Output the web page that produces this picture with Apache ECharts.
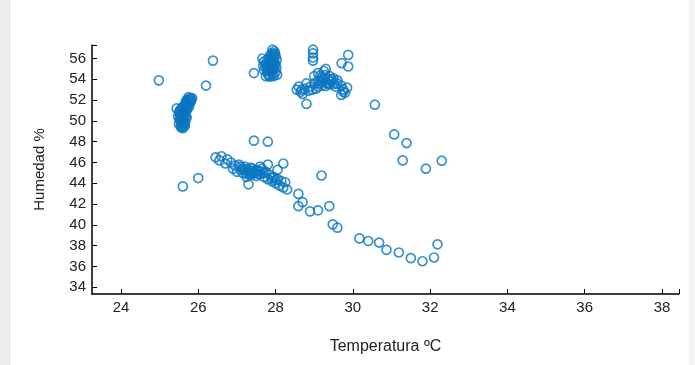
<!DOCTYPE html>
<html>
<head>
<meta charset="utf-8">
<style>
  html, body { margin: 0; padding: 0; background: #fff; }
  #main { width: 695px; height: 365px; }
</style>
<script src="https://cdn.jsdelivr.net/npm/echarts@6/dist/echarts.min.js"></script>
</head>
<body>
<div id="main"></div>
<script>
// [temperatura ºC, humedad %]
const clusterA = [
  [25.55, 49.4], [25.6, 49.3], [25.65, 49.5], [25.5, 49.7], [25.58, 49.8], [25.66, 49.9],
  [25.52, 50.1], [25.6, 50.2], [25.7, 50.3], [25.48, 50.4], [25.57, 50.5], [25.66, 50.6],
  [25.5, 50.8], [25.6, 50.9], [25.7, 51.0], [25.44, 51.2], [25.55, 51.1], [25.68, 51.3],
  [25.75, 51.5], [25.62, 51.4], [25.72, 51.7], [25.8, 51.8], [25.7, 52.0], [25.78, 52.1],
  [25.84, 52.2], [25.75, 52.3], [25.8, 51.9], [25.66, 51.6], [25.6, 50.0], [25.65, 49.7],
  [25.55, 49.55], [25.62, 49.6], [25.54, 50.3], [25.63, 50.4], [25.53, 50.65], [25.64, 50.75],
  [25.58, 51.25], [25.7, 51.15], [25.76, 51.35], [25.68, 51.85], [25.82, 52.05], [25.74, 51.6],
  [25.59, 49.45], [25.61, 49.95], [25.56, 50.25], [25.59, 50.7], [25.62, 51.0], [25.66, 51.45],
  [25.73, 51.95], [25.79, 52.2], [25.52, 51.0], [25.68, 50.45]
]
const clusterB = [
  [27.75, 54.3], [27.85, 54.25], [27.95, 54.3], [27.8, 54.5], [27.9, 54.6], [28.0, 54.7],
  [27.7, 54.9], [27.85, 54.9], [27.95, 55.0], [28.02, 55.1], [27.68, 55.3], [27.8, 55.3],
  [27.9, 55.4], [28.0, 55.5], [27.7, 55.7], [27.85, 55.7], [27.95, 55.8], [28.03, 55.9],
  [27.85, 56.0], [27.92, 56.2], [28.0, 56.3], [27.9, 56.5], [27.97, 56.7], [27.92, 56.85],
  [27.44, 54.6], [27.66, 56.0], [28.04, 54.45], [27.78, 54.75], [27.9, 54.8], [27.76, 55.1],
  [27.88, 55.15], [27.98, 55.3], [27.78, 55.5], [27.9, 55.6], [27.78, 55.9], [27.96, 56.05],
  [27.86, 56.3], [27.98, 56.5], [27.84, 54.4], [27.93, 54.45], [27.82, 55.0], [27.92, 55.25],
  [27.74, 55.45], [27.86, 55.5], [27.95, 55.6], [27.83, 55.85], [27.9, 56.0], [27.94, 56.4]
]
const clusterC = [
  [28.97, 56.85], [28.97, 56.5], [28.97, 56.1], [28.97, 55.8],
  [29.88, 56.35], [29.71, 55.55], [29.88, 55.23], [28.8, 51.63],
  [28.55, 53.0], [28.65, 52.8], [28.75, 53.1], [28.6, 53.3], [28.85, 52.9], [28.7, 52.6],
  [28.9, 53.3], [29.0, 53.6], [29.1, 53.9], [29.2, 54.2], [29.1, 54.6], [29.25, 54.8],
  [29.3, 53.7], [29.4, 53.5], [29.35, 54.0], [29.5, 54.1], [29.45, 53.8], [29.2, 53.4],
  [29.05, 53.1], [29.6, 53.9], [29.7, 53.4], [29.75, 53.0], [29.8, 52.7], [29.7, 52.5],
  [29.85, 53.2], [29.55, 53.3], [29.0, 54.3], [28.8, 53.6], [29.3, 55.0], [29.15, 53.6],
  [29.25, 54.05], [29.4, 54.3], [29.3, 53.35], [28.95, 53.0], [28.68, 53.0], [29.6, 53.6],
  [29.75, 52.8], [29.15, 54.35], [29.2, 53.8], [29.35, 53.6], [29.45, 54.0], [29.1, 53.3],
  [29.28, 54.4], [29.52, 53.55]
]
const clusterD = [
  [26.45, 46.5], [26.6, 46.6], [26.55, 46.2], [26.75, 46.3], [26.7, 45.9], [26.85, 46.0],
  [26.95, 45.7], [26.9, 45.4], [27.05, 45.8], [27.1, 45.3], [27.2, 45.6], [27.15, 45.0],
  [27.3, 45.2], [27.35, 44.8], [27.4, 45.4], [27.45, 45.0], [27.5, 44.7], [27.55, 45.2],
  [27.6, 44.9], [27.25, 44.6], [27.65, 45.4], [27.7, 44.6], [27.75, 45.1], [27.8, 44.4],
  [27.85, 44.8], [27.9, 44.2], [27.95, 44.6], [28.0, 44.0], [28.05, 44.4], [28.1, 43.8],
  [28.15, 44.2], [28.2, 43.6], [28.3, 43.4], [28.25, 44.1], [27.8, 45.8], [28.2, 45.9],
  [27.3, 43.9], [27.0, 45.1], [27.6, 45.6], [28.05, 45.3], [27.2, 45.3], [27.4, 45.1],
  [27.5, 45.3], [27.35, 45.5], [27.25, 44.9], [27.55, 44.9], [27.1, 45.6], [27.7, 45.0],
  [27.9, 44.5], [28.0, 44.3], [27.3, 45.0], [27.45, 45.2], [27.38, 44.95], [27.6, 45.15],
  [27.15, 45.4], [27.28, 45.35]
]
const trail = [
  [28.59, 42.98], [28.7, 42.18], [28.59, 41.8], [28.89, 41.3], [29.1, 41.4], [29.39, 41.8],
  [29.48, 40.05], [29.6, 39.73], [30.17, 38.7], [30.4, 38.45], [30.68, 38.3], [30.87, 37.6],
  [31.19, 37.34], [31.5, 36.8], [31.8, 36.5], [32.1, 36.86], [32.19, 38.13]
]
const sueltos = [
  [24.98, 53.9], [26.38, 55.8], [26.2, 53.4], [25.6, 43.7], [26.0, 44.5], [27.44, 48.1],
  [27.8, 48.0], [29.19, 44.75], [30.57, 51.56], [31.07, 48.7], [31.39, 47.87], [31.29, 46.2],
  [31.89, 45.4], [32.3, 46.17]
]

const xTicks = [24, 26, 28, 30, 32, 34, 36, 38]
const yTicks = [34, 36, 38, 40, 42, 44, 46, 48, 50, 52, 54, 56]
const xRange = [23.25, 38.44]
const yRange = [33.35, 57.3]

const font = 'Liberation Sans, Arial, sans-serif'
const ink = '#222'

const myChart = echarts.init(document.getElementById('main'))
const option = {
  backgroundColor: '#fff',
  animation: false,
  graphic: [
    { type: 'rect', left: 0, top: 0, shape: { width: 11, height: 365 }, style: { fill: '#ececec' } },
    { type: 'rect', right: 0, top: 0, shape: { width: 6, height: 365 }, style: { fill: '#f2f2f2' } }
  ],
  grid: { left: 92, right: 16, top: 45, bottom: 71 },
  xAxis: {
    type: 'value',
    min: xRange[0],
    max: xRange[1],
    name: 'Temperatura ºC',
    nameLocation: 'middle',
    nameGap: 45,
    nameTextStyle: { fontFamily: font, fontSize: 16, color: ink },
    splitLine: { show: false },
    axisLine: { lineStyle: { color: '#000', width: 1.5 } },
    axisTick: {
      inside: true,
      length: 5,
      customValues: xTicks.concat([xRange[1]]),
      lineStyle: { color: '#000' }
    },
    axisLabel: {
      customValues: xTicks,
      margin: 6,
      fontFamily: font,
      fontSize: 15,
      color: ink
    }
  },
  yAxis: {
    type: 'value',
    min: yRange[0],
    max: yRange[1],
    name: 'Humedad %',
    nameLocation: 'middle',
    nameGap: 45,
    nameTextStyle: { fontFamily: font, fontSize: 15, color: ink },
    splitLine: { show: false },
    axisLine: { show: true, lineStyle: { color: '#000', width: 1.5 } },
    axisTick: {
      show: true,
      inside: true,
      length: 5,
      customValues: yTicks.concat([yRange[1]]),
      lineStyle: { color: '#000' }
    },
    axisLabel: {
      customValues: yTicks,
      margin: 6,
      fontFamily: font,
      fontSize: 15,
      color: ink
    }
  },
  series: [
    {
      type: 'scatter',
      symbol: 'circle',
      symbolSize: 9,
      itemStyle: {
        color: 'rgba(255,255,255,0)',
        borderColor: '#0a76c0',
        borderWidth: 1.7
      },
      data: [].concat(clusterA, clusterB, clusterC, clusterD, trail, sueltos)
    }
  ]
}
myChart.setOption(option)
</script>
</body>
</html>
